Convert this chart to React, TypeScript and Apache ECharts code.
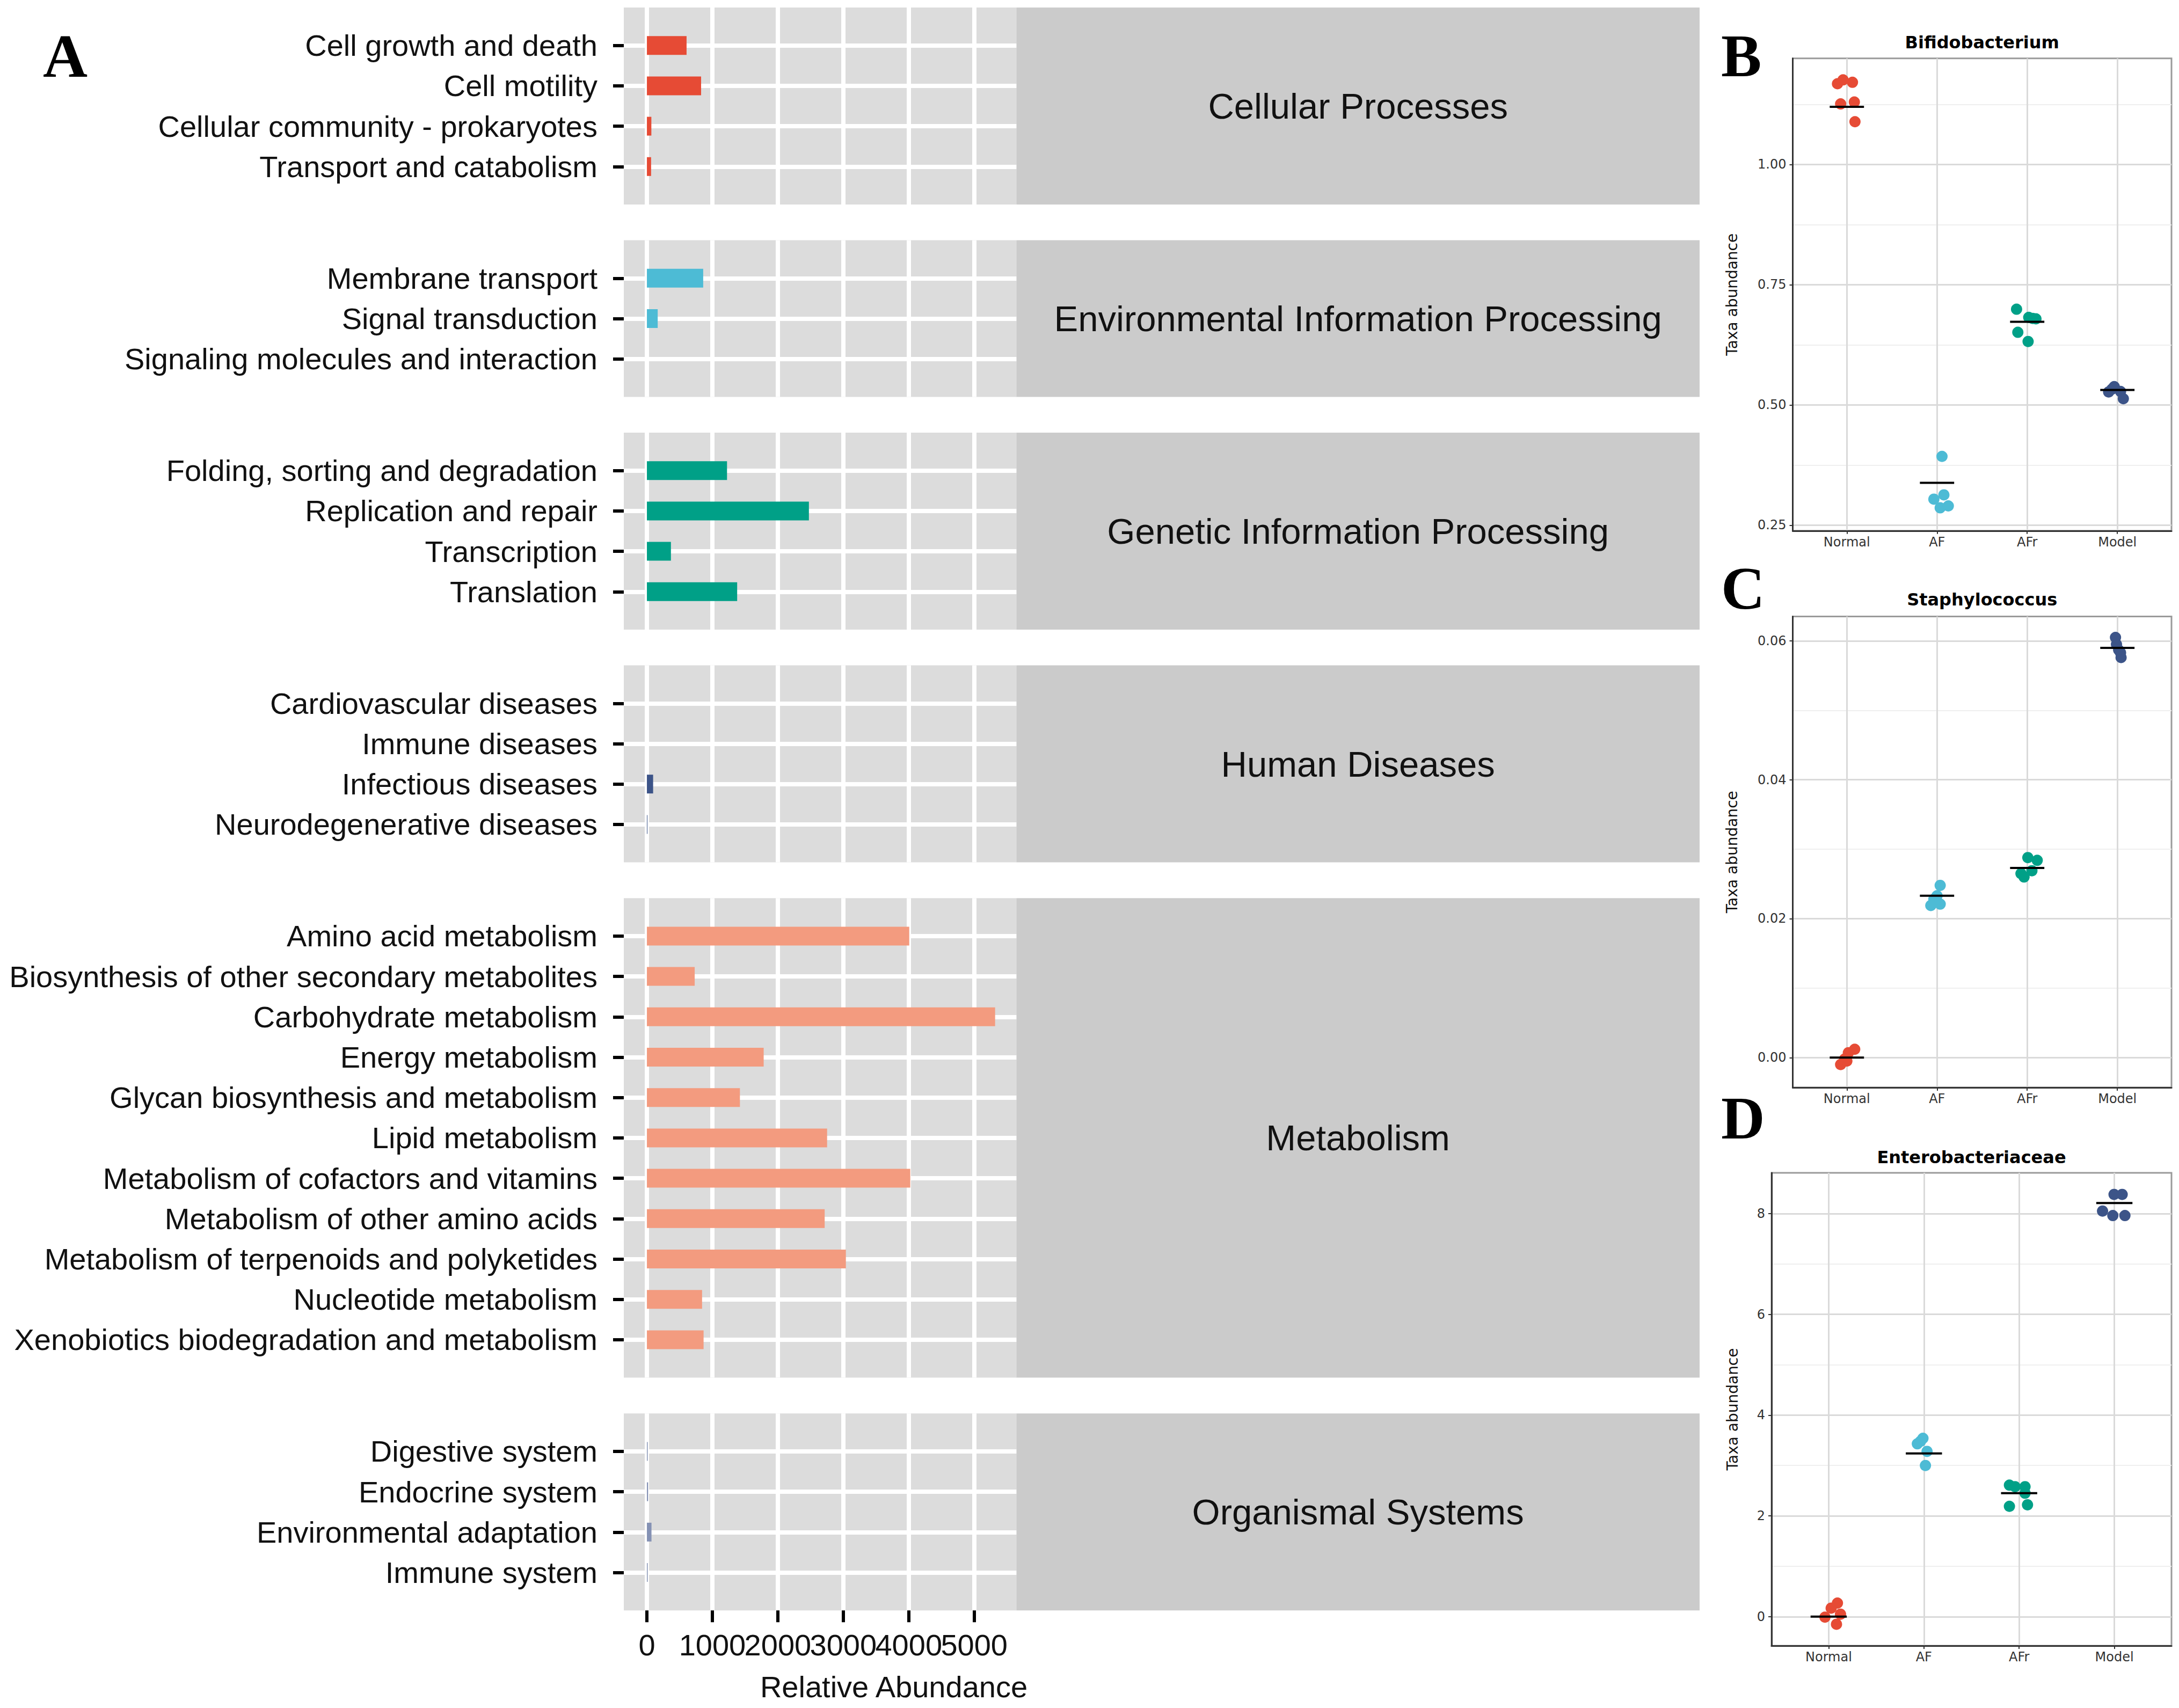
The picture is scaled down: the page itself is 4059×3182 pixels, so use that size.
import React, { useEffect, useRef } from "react";
import * as echarts from "echarts";

// ---------------- Panel A data ----------------
const facetNames = [
  "Cellular Processes",
  "Environmental Information Processing",
  "Genetic Information Processing",
  "Human Diseases",
  "Metabolism",
  "Organismal Systems",
];
const cellularCats = ["Cell growth and death", "Cell motility", "Cellular community - prokaryotes", "Transport and catabolism"];
const cellularVals = [606, 828, 68, 64];
const envCats = ["Membrane transport", "Signal transduction", "Signaling molecules and interaction"];
const envVals = [860, 165, 0];
const geneticCats = ["Folding, sorting and degradation", "Replication and repair", "Transcription", "Translation"];
const geneticVals = [1224, 2475, 367, 1379];
const diseaseCats = ["Cardiovascular diseases", "Immune diseases", "Infectious diseases", "Neurodegenerative diseases"];
const diseaseVals = [0, 0, 95, 8];
const metabCats = [
  "Amino acid metabolism",
  "Biosynthesis of other secondary metabolites",
  "Carbohydrate metabolism",
  "Energy metabolism",
  "Glycan biosynthesis and metabolism",
  "Lipid metabolism",
  "Metabolism of cofactors and vitamins",
  "Metabolism of other amino acids",
  "Metabolism of terpenoids and polyketides",
  "Nucleotide metabolism",
  "Xenobiotics biodegradation and metabolism",
];
const metabVals = [4008, 730, 5320, 1784, 1421, 2753, 4024, 2716, 3040, 843, 866];
const organCats = ["Digestive system", "Endocrine system", "Environmental adaptation", "Immune system"];
const organVals = [12, 18, 70, 12];
const facetColors = ["#E64B35", "#4DBBD5", "#00A087", "#3C5488", "#F39B7F", "#8491B4"];
const xTicksA = [0, 1000, 2000, 3000, 4000, 5000];
const xLabelsEven = [0, 2000, 4000];
const xLabelsOdd = [1000, 3000, 5000];

// ---------------- Panels B-D data ----------------
const groups = ["Normal", "AF", "AFr", "Model"];
const groupColors = ["#E64B35", "#4DBBD5", "#00A087", "#3C5488"];

// [jitter offset, value]
const bifidoNormal = [[-0.104, 1.168], [-0.042, 1.176], [0.062, 1.171], [-0.069, 1.126], [0.083, 1.13], [0.09, 1.089]];
const bifidoAF = [[0.055, 0.393], [-0.035, 0.304], [0.076, 0.313], [0.035, 0.286], [0.125, 0.29]];
const bifidoAFr = [[-0.118, 0.699], [0.017, 0.682], [0.097, 0.679], [-0.104, 0.651], [0.01, 0.632], [0.06, 0.68]];
const bifidoModel = [[-0.035, 0.538], [-0.097, 0.527], [0.035, 0.528], [0.066, 0.513], [-0.06, 0.533]];
const bifidoMeans = [1.12, 0.338, 0.673, 0.531];

const staphNormal = [[-0.069, -0.001], [0, -0.0005], [0.087, 0.0012], [0.017, 0.0007], [-0.024, -0.0002]];
const staphAF = [[0.035, 0.0248], [0, 0.0233], [-0.069, 0.0219], [0.035, 0.0221], [-0.035, 0.0228]];
const staphAFr = [[0.007, 0.0288], [0.111, 0.0284], [0.052, 0.0269], [-0.069, 0.0265], [-0.035, 0.026]];
const staphModel = [[-0.021, 0.0605], [-0.01, 0.0595], [0.035, 0.0583], [0.041, 0.0576], [0.014, 0.0587]];
const staphMeans = [0.0, 0.0233, 0.0273, 0.059];

const enteroNormal = [[0.092, 0.27], [0.026, 0.17], [-0.039, -0.01], [0.082, -0.15], [0.124, 0.05]];
const enteroAF = [[-0.01, 3.54], [-0.069, 3.43], [0.033, 3.28], [0.016, 3.0], [-0.036, 3.48]];
const enteroAFr = [[-0.102, 2.61], [-0.043, 2.58], [0.062, 2.58], [0.062, 2.45], [-0.102, 2.19], [0.088, 2.22]];
const enteroModel = [[-0.003, 8.38], [0.082, 8.38], [-0.124, 8.05], [-0.016, 7.96], [0.111, 7.96]];
const enteroMeans = [0.0, 3.24, 2.45, 8.21];

const bifidoTicks = [0.25, 0.5, 0.75, 1.0];
const bifidoMinor = [0.375, 0.625, 0.875, 1.125];
const staphTicks = [0, 0.02, 0.04, 0.06];
const staphMinor = [0.01, 0.03, 0.05];
const enteroTicks = [0, 2, 4, 6, 8];
const enteroMinor = [1, 3, 5, 7];

// ---------------- Layout ----------------
const SANS = "Liberation Sans, Arial, sans-serif";
const DEJA = "DejaVu Sans, sans-serif";
const SERIF = "Liberation Serif, Times New Roman, serif";
const A_LEFT = 1162;
const A_WIDTH = 731.3;
const STRIP_RIGHT = 3166;
const A_TOP = 14;
const STEP = 75.2;
const PAD = 70.7;
const GAP = 66.6;
const X_MIN = -353;
const X_MAX = 5645;

function buildOption() {
  const facets = [
    { name: facetNames[0], cats: cellularCats, vals: cellularVals, color: facetColors[0] },
    { name: facetNames[1], cats: envCats, vals: envVals, color: facetColors[1] },
    { name: facetNames[2], cats: geneticCats, vals: geneticVals, color: facetColors[2] },
    { name: facetNames[3], cats: diseaseCats, vals: diseaseVals, color: facetColors[3] },
    { name: facetNames[4], cats: metabCats, vals: metabVals, color: facetColors[4] },
    { name: facetNames[5], cats: organCats, vals: organVals, color: facetColors[5] },
  ];
  const grids: any[] = [];
  const xAxes: any[] = [];
  const yAxes: any[] = [];
  const series: any[] = [];
  const graphics: any[] = [];
  const titles: any[] = [];

  const labelStyleA = { fontSize: 56, fontFamily: SANS, color: "#111", margin: 36 };

  let top = A_TOP;
  facets.forEach((f, i) => {
    const n = f.cats.length;
    const h = (n - 1) * STEP + 2 * PAD;
    const last = i === facets.length - 1;
    // background panel grid
    const gBg = grids.length;
    grids.push({ left: A_LEFT, top, width: A_WIDTH, height: h, show: true, backgroundColor: "#DCDCDC", borderWidth: 0 });
    xAxes.push({
      type: "value", gridIndex: gBg, min: X_MIN, max: X_MAX,
      axisLine: { show: false, onZero: false },
      axisTick: { show: last, customValues: xTicksA, length: 22, lineStyle: { color: "#000", width: 6 } },
      axisLabel: {
        show: last, customValues: last ? xLabelsEven : xTicksA, formatter: (v: number) => String(v), hideOverlap: false,
        ...labelStyleA,
      },
      splitLine: { show: true, lineStyle: { color: "#ffffff", width: 8 } },
    });
    if (last) {
      // second label row (same positions) so the touching labels are not dropped
      xAxes.push({
        type: "value", gridIndex: gBg, min: X_MIN, max: X_MAX, position: "bottom",
        axisLine: { show: false, onZero: false },
        axisTick: { show: false, customValues: xLabelsOdd },
        axisLabel: { show: true, customValues: xLabelsOdd, formatter: (v: number) => String(v), hideOverlap: false, ...labelStyleA },
        splitLine: { show: false },
      });
    }
    yAxes.push({
      type: "value", gridIndex: gBg, inverse: true, min: -PAD / STEP, max: n - 1 + PAD / STEP,
      axisLine: { show: false, onZero: false },
      axisTick: { show: false, customValues: f.cats.map((_, k) => k) },
      axisLabel: { show: false },
      splitLine: { show: true, lineStyle: { color: "#ffffff", width: 8 } },
    });
    // data grid
    const gD = grids.length;
    grids.push({ left: A_LEFT, top: top + PAD - STEP / 2, width: A_WIDTH, height: n * STEP });
    const xd = xAxes.length;
    xAxes.push({ type: "value", gridIndex: gD, min: X_MIN, max: X_MAX, show: false, splitLine: { show: false } });
    const yd = yAxes.length;
    yAxes.push({
      type: "category", gridIndex: gD, inverse: true, data: f.cats,
      axisLine: { show: false, onZero: false },
      axisTick: { show: true, alignWithLabel: true, interval: 0, length: 20, lineStyle: { color: "#000", width: 6 } },
      axisLabel: { interval: 0, fontSize: 56, fontFamily: SANS, color: "#111", margin: 49 },
      splitLine: { show: false },
    });
    series.push({
      type: "bar", name: f.name, xAxisIndex: xd, yAxisIndex: yd, data: f.vals, barWidth: 35,
      itemStyle: { color: f.color }, silent: true,
    });
    // strip
    graphics.push({
      type: "rect", silent: true,
      shape: { x: A_LEFT + A_WIDTH, y: top, width: STRIP_RIGHT - (A_LEFT + A_WIDTH), height: h },
      style: { fill: "#CBCBCB" },
    });
    graphics.push({
      type: "text", silent: true,
      x: (A_LEFT + A_WIDTH + STRIP_RIGHT) / 2, y: top + h / 2,
      style: { text: f.name, fontSize: 67, fontFamily: SANS, fill: "#111", align: "center", verticalAlign: "middle" },
    });
    top += h + GAP;
  });

  graphics.push({
    type: "text", silent: true, x: 1665, y: 3142,
    style: { text: "Relative Abundance", fontSize: 56, fontFamily: SANS, fill: "#111", align: "center", verticalAlign: "middle" },
  });

  // right panels
  const panels = [
    {
      title: "Bifidobacterium", letter: "B", letterY: 103, titleY: 78.5,
      left: 3339.5, top: 108.7, right: 4045, bottom: 988.8, min: 0.2383, max: 1.2208,
      major: bifidoTicks, minor: bifidoMinor, fmt: (v: number) => v.toFixed(2),
      pts: [bifidoNormal, bifidoAF, bifidoAFr, bifidoModel], means: bifidoMeans, nameGap: 99,
    },
    {
      title: "Staphylococcus", letter: "C", letterY: 1095, titleY: 1117,
      left: 3339.5, top: 1148.4, right: 4045, bottom: 2025.9, min: -0.0043, max: 0.06352,
      major: staphTicks, minor: staphMinor, fmt: (v: number) => v.toFixed(2),
      pts: [staphNormal, staphAF, staphAFr, staphModel], means: staphMeans, nameGap: 99,
    },
    {
      title: "Enterobacteriaceae", letter: "D", letterY: 2082, titleY: 2156,
      left: 3300, top: 2185, right: 4045, bottom: 3066, min: -0.577, max: 8.808,
      major: enteroTicks, minor: enteroMinor, fmt: (v: number) => String(Math.round(v)),
      pts: [enteroNormal, enteroAF, enteroAFr, enteroModel], means: enteroMeans, nameGap: 59,
    },
  ];

  panels.forEach((p) => {
    const g = grids.length;
    grids.push({
      left: p.left, top: p.top, width: p.right - p.left, height: p.bottom - p.top,
      show: true, backgroundColor: "#ffffff", borderColor: "#9a9a9a", borderWidth: 3,
    });
    const xi = xAxes.length;
    xAxes.push({
      type: "value", gridIndex: g, min: -0.6, max: 3.6, position: "bottom",
      axisLine: { show: true, onZero: false, lineStyle: { color: "#333", width: 3 } },
      axisTick: { show: true, customValues: [0, 1, 2, 3], length: 6, lineStyle: { color: "#333", width: 2 } },
      axisLabel: {
        customValues: [0, 1, 2, 3], formatter: (v: number) => groups[Math.round(v)], hideOverlap: false,
        fontSize: 24, fontFamily: DEJA, color: "#333", margin: 9,
      },
      splitLine: { show: true, lineStyle: { color: "#DADADA", width: 3 } },
    });
    const yi = yAxes.length;
    yAxes.push({
      type: "value", gridIndex: g, min: p.min, max: p.max, position: "left",
      name: "Taxa abundance", nameLocation: "middle", nameGap: p.nameGap, nameRotate: 90,
      nameTextStyle: { fontSize: 28, fontFamily: DEJA, color: "#111" },
      axisLine: { show: true, onZero: false, lineStyle: { color: "#333", width: 3 } },
      axisTick: { show: true, customValues: p.major, length: 6, lineStyle: { color: "#333", width: 2 } },
      axisLabel: { customValues: p.major, formatter: p.fmt, hideOverlap: false, fontSize: 24, fontFamily: DEJA, color: "#333", margin: 12 },
      splitLine: { show: true, lineStyle: { color: "#DADADA", width: 3 } },
    });
    yAxes.push({
      type: "value", gridIndex: g, min: p.min, max: p.max, position: "left",
      axisLine: { show: false, onZero: false },
      axisTick: { show: false, customValues: p.minor },
      axisLabel: { show: false, customValues: p.minor },
      splitLine: { show: true, lineStyle: { color: "#EFEFEF", width: 2 } },
    });
    p.pts.forEach((arr, k) => {
      series.push({
        type: "scatter", name: p.title + " " + groups[k], xAxisIndex: xi, yAxisIndex: yi,
        data: arr.map((d) => [k + d[0], d[1]]), symbolSize: 21, silent: true,
        itemStyle: { color: groupColors[k], opacity: 1 }, z: 2,
      });
    });
    series.push({
      type: "custom", name: p.title + " mean", xAxisIndex: xi, yAxisIndex: yi, z: 5, silent: true,
      data: p.means.map((m, k) => [k, m]),
      renderItem: (params: any, api: any) => {
        const k = api.value(0);
        const m = api.value(1);
        const a = api.coord([k - 0.19, m]);
        const b = api.coord([k + 0.19, m]);
        return { type: "line", shape: { x1: a[0], y1: a[1], x2: b[0], y2: b[1] }, style: { stroke: "#000", lineWidth: 4 } };
      },
    });
    titles.push({
      text: p.title, left: (p.left + p.right) / 2, top: p.titleY - 18, textAlign: "center", padding: 0,
      textStyle: { fontFamily: DEJA, fontWeight: "bold", fontSize: 32, color: "#000", lineHeight: 36 },
    });
    graphics.push({
      type: "text", silent: true, x: 3206, y: p.letterY,
      style: { text: p.letter, fontSize: 113, fontFamily: SERIF, fontWeight: "bold", fill: "#000", align: "left", verticalAlign: "middle" },
    });
  });

  graphics.push({
    type: "text", silent: true, x: 80, y: 104,
    style: { text: "A", fontSize: 115, fontFamily: SERIF, fontWeight: "bold", fill: "#000", align: "left", verticalAlign: "middle" },
  });

  return {
    animation: false,
    backgroundColor: "#ffffff",
    title: titles,
    grid: grids,
    xAxis: xAxes,
    yAxis: yAxes,
    series,
    graphic: graphics,
  };
}

export default function App() {
  const ref = useRef<HTMLDivElement>(null);
  useEffect(() => {
    if (!ref.current) return;
    const chart = echarts.init(ref.current, undefined, { renderer: "svg" });
    chart.setOption(buildOption() as any);
    return () => chart.dispose();
  }, []);
  return <div ref={ref} style={{ position: "absolute", left: 0, top: 0, width: 4059, height: 3182 }} />;
}
